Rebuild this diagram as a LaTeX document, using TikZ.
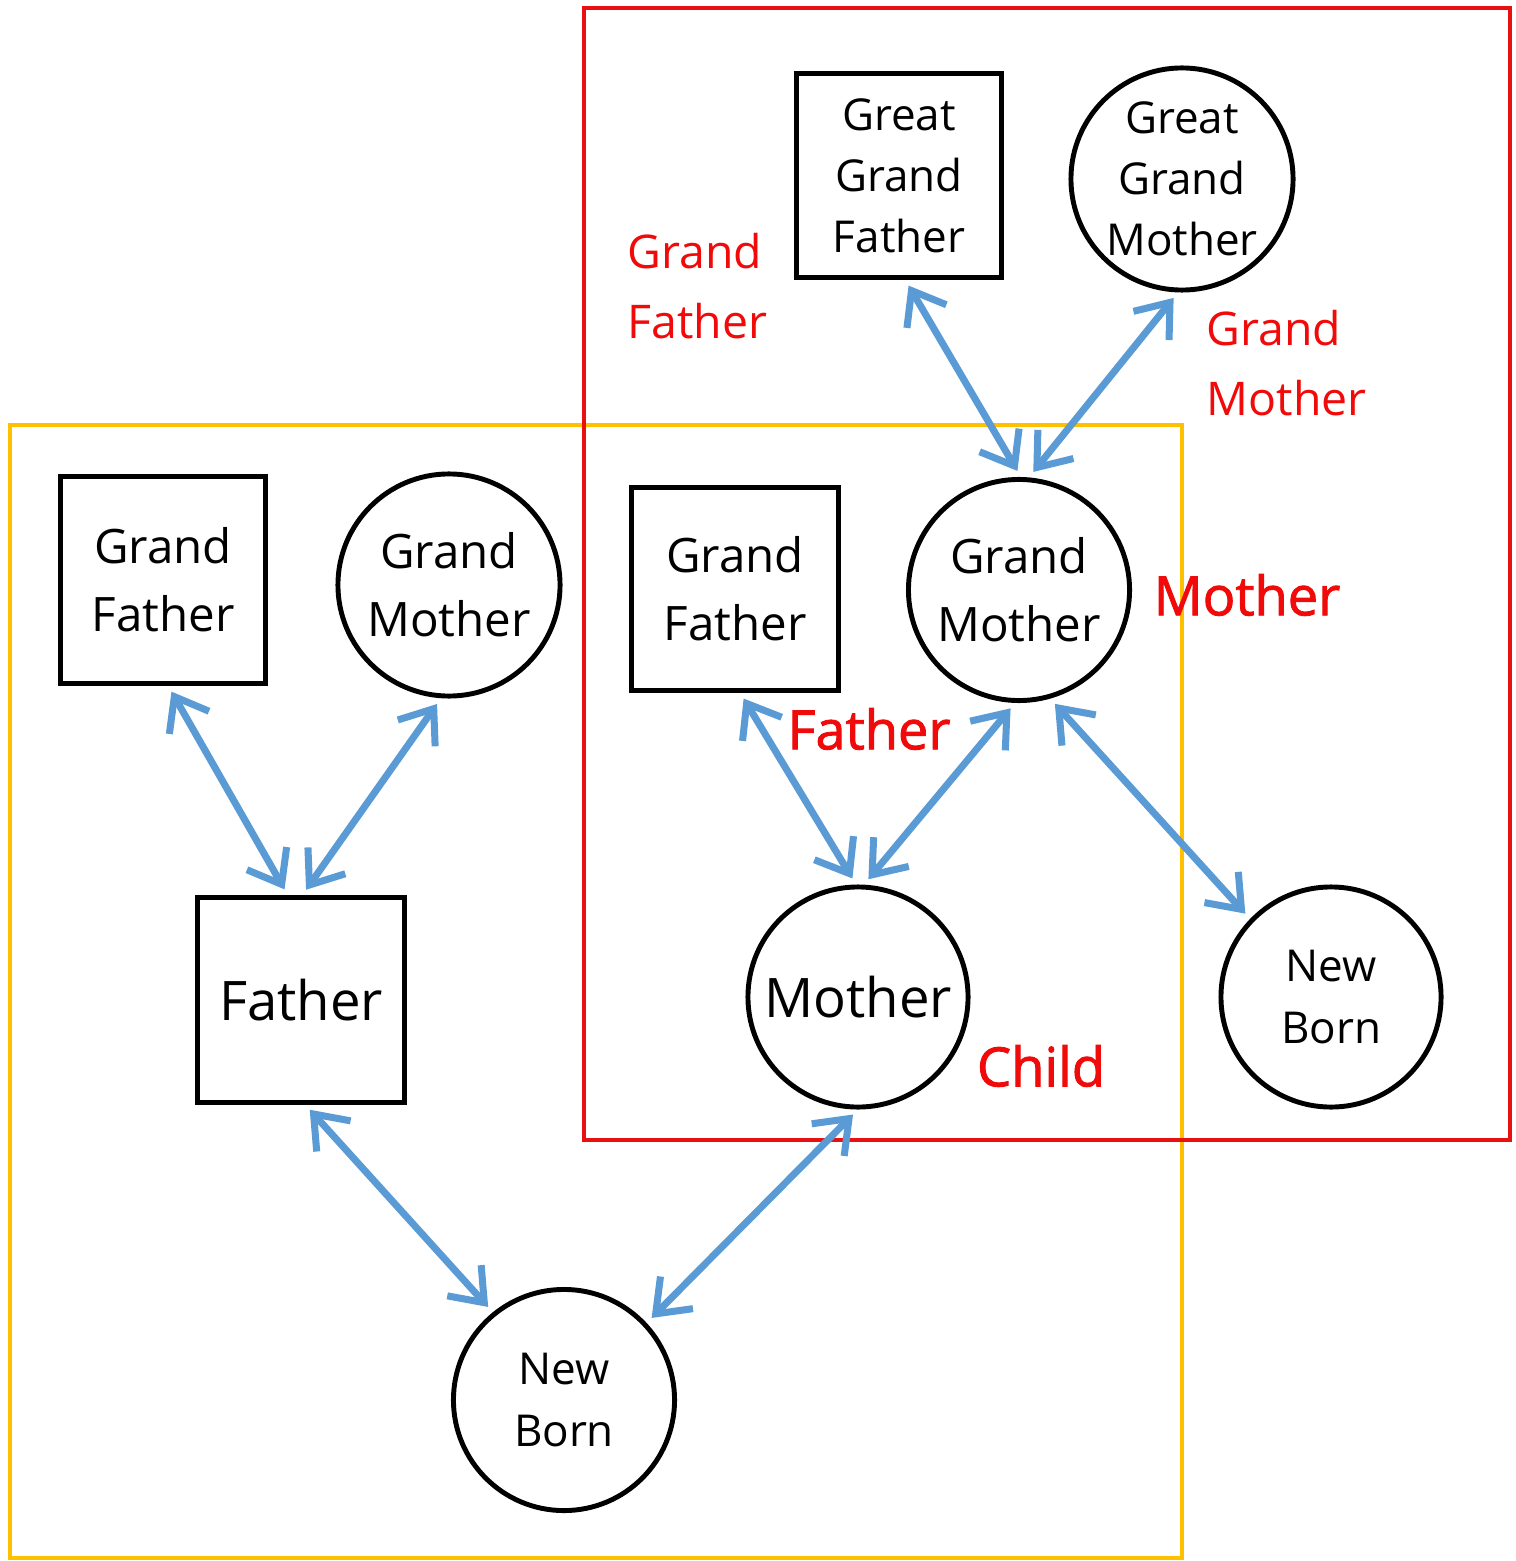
\documentclass[tikz,border=0pt]{standalone}
\usepackage{fontspec}
\setmainfont{Open Sans}
\newfontfamily\semib[FakeBold=1.6]{Open Sans}
\usetikzlibrary{arrows.meta}
\definecolor{frRed}{RGB}{232,16,16}
\definecolor{frYel}{RGB}{255,192,0}
\definecolor{arBlue}{RGB}{91,155,213}
\definecolor{lbRed}{RGB}{240,10,10}
\tikzset{
  sqnode/.style={draw, line width=1.4pt, rectangle, minimum width=2.04cm, minimum height=2.04cm, align=center, inner sep=0pt},
  cirnode/.style={draw, line width=1.4pt, circle, minimum size=2.2cm, align=center, inner sep=0pt},
  gtxt/.style={font=\fontsize{13.5}{19.3}\selectfont},
  ggtxt/.style={font=\fontsize{12.5}{17.4}\selectfont},
  bigtxt/.style={font=\fontsize{15.5}{19}\selectfont},
  nbtxt/.style={font=\fontsize{12.5}{17.6}\selectfont},
  rlab/.style={text=lbRed, align=left, inner sep=0pt, font=\fontsize{13.2}{19.8}\selectfont},
  rbig/.style={text=lbRed, inner sep=0pt, font=\semib\fontsize{15.4}{19}\selectfont},
  rel/.style={draw=arBlue, line width=2pt, {Straight Barb[length=8.5pt,width=13pt]}-{Straight Barb[length=8.5pt,width=13pt]}, shorten <=2pt, shorten >=2pt},
  frame/.style={line width=1.3pt}
}
\begin{document}
\begin{tikzpicture}[x=0.01cm,y=-0.01cm]
\useasboundingbox (0,0) rectangle (1515,1561);
% frames
\draw[frame, frYel] (10,425) rectangle (1182,1558);
\draw[frame, frRed] (584,8) rectangle (1510,1140);
% nodes
\node[sqnode, ggtxt, minimum height=2.03cm] (ggf) at (899,175.5) {Great\\Grand\\Father};
\node[cirnode, ggtxt, minimum size=2.22cm] (ggm) at (1182,179) {Great\\Grand\\Mother};
\node[sqnode, gtxt, minimum height=2.06cm] (gfl) at (163,580) {Grand\\Father};
\node[cirnode, gtxt, minimum size=2.22cm] (gml) at (449,585) {Grand\\Mother};
\node[sqnode, gtxt, minimum width=2.06cm, minimum height=2.02cm] (gfr) at (735,589) {Grand\\Father};
\node[cirnode, gtxt, minimum size=2.21cm] (gmr) at (1019,590) {Grand\\Mother};
\node[sqnode, bigtxt, minimum width=2.06cm] (fa) at (301,1000) {Father};
\node[cirnode, bigtxt] (mo) at (858,997) {Mother};
\node[cirnode, nbtxt] (nbr) at (1331,997) {New\\Born};
\node[cirnode, nbtxt, minimum size=2.21cm] (nbb) at (564,1400) {New\\Born};
% red labels
\node[rlab, anchor=west] (lgf) at (627,286) {Grand\\Father};
\node[rlab, anchor=west] (lgm) at (1206,363) {Grand\\Mother};
\node[rbig] (lmo) at (1247,595) {Mother};
\node[rbig] (lfa) at (869,729) {Father};
\node[rbig] (lch) at (1041,1066) {Child};
% relations
\draw[rel] ([xshift=0.05cm]gfl.south) -- ([xshift=-0.13cm]fa.north);
\draw[rel] (gml.-94) -- ([xshift=0.01cm]fa.north);
\draw[rel] ([xshift=0.04cm]fa.south) -- (nbb.129);
\draw[rel] (mo.-90) -- (nbb.43);
\draw[rel] ([xshift=0.05cm]gfr.south) -- (mo.91);
\draw[rel] (gmr.-92) -- (mo.87);
\draw[rel] (gmr.-74) -- (nbr.136);
\draw[rel] ([xshift=0.06cm]ggf.south) -- (gmr.89);
\draw[rel] (ggm.-92) -- (gmr.85);
\end{tikzpicture}
\end{document}
